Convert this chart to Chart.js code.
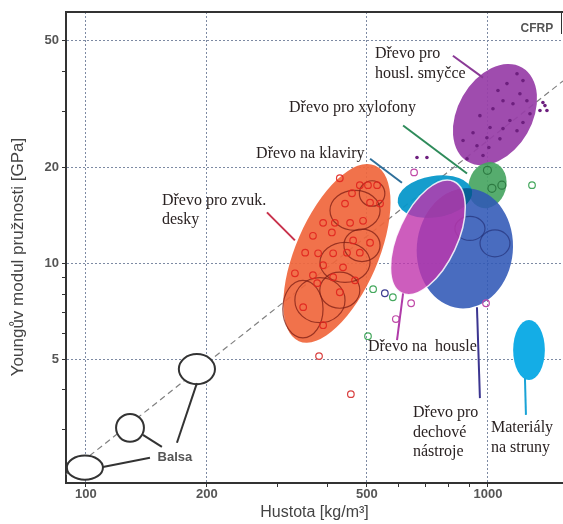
<!DOCTYPE html>
<html>
<head>
<meta charset="utf-8">
<script src="https://cdn.jsdelivr.net/npm/chart.js@4"></script>
<style>
html, body { margin: 0; padding: 0; background: #fff; }
#wrap { width: 563px; height: 524px; }
</style>
</head>
<body>
<div id="wrap"><canvas id="myChart"></canvas></div>
<script>
const chartEl = document.getElementById('myChart');

// Axis ticks (density kg/m3, modulus GPa)
const xTicks = [100, 200, 300, 400, 500, 600, 700, 800, 900, 1000];
const xLabelled = [100, 200, 500, 1000];
const yTicks = [3, 4, 5, 6, 7, 8, 9, 10, 20, 30, 40, 50];
const yLabelled = [5, 10, 20, 50];

// E/rho guide line
const guideLine = [[89.2, 2.17], [1537, 37.4]];

// Regions: centre, end of long axis, short/long ratio
const regionNames = ['balsa1', 'balsa2', 'balsa3', 'zvukDesky', 'smycce', 'xylofony', 'klaviry', 'dechove', 'housle', 'struny'];
const regionCentres = [[99.4, 2.28], [128.7, 3.04], [188.8, 4.65], [421, 10.75], [1041, 29.3], [997, 17.6], [738, 16.2], [876, 11.14], [709, 12.06], [1265, 5.34]];
const regionTips = [[110.2, 2.28], [139.4, 3.04], [209.4, 4.65], [523.5, 20.3], [1215, 41.2], [1036, 20.7], [913, 16.9], [902, 17.18], [823, 18.07], [1265, 6.63]];
const regionRatios = [0.67, 1.0, 0.83, 0.43, 0.685, 0.8, 0.55, 0.8, 0.48, 0.53];

// Smaller species groups drawn as outlines inside the regions
const subCentres = [[346.5, 7.18], [382, 7.66], [428, 8.23], [441, 10.07], [486, 11.39], [467, 14.66], [515, 16.57], [902, 12.87], [1041, 11.55]];
const subTips = [[346.5, 8.84], [441, 7.66], [480, 8.23], [509, 10.07], [539, 11.39], [539, 14.66], [554, 16.57], [983, 12.87], [1134, 11.55]];
const subRatios = [0.7, 0.9, 0.9, 0.8, 0.9, 0.8, 1, 0.8, 0.9];

// Single samples
const soundboardSamples = [[428, 18.5], [480, 17.6], [503, 17.6], [530, 17.6], [459, 16.6], [509, 15.5], [539, 15.4], [441, 15.4],
  [389, 13.4], [416, 13.4], [454, 13.4], [489, 13.6], [367, 12.2], [409, 12.5], [462, 11.8], [509, 11.6], [351, 10.8],
  [378, 10.75], [412, 10.75], [446, 10.8], [480, 10.8], [389, 9.86], [436, 9.71], [331, 9.3], [367, 9.17], [412, 9.04],
  [467, 8.84], [376, 8.66], [428, 8.11], [347, 7.28], [389, 6.39]];
const bowSamples = [[1181, 39.4], [1115, 36.7], [1222, 37.5], [1059, 34.9], [1201, 34.1], [1090, 32.4], [1250, 32.4], [1029, 30.6],
  [1154, 31.7], [955, 29.1], [1134, 28.1], [1222, 27.7], [1012, 26.7], [1090, 26.5], [1181, 26.1], [918, 25.7], [994, 24.8],
  [1071, 24.6], [867, 24.3], [939, 23.4], [1005, 23.1], [887, 21.3], [972, 21.8], [1272, 29.5], [1370, 32.0], [1347, 30.2],
  [1402, 30.2], [1386, 31.3], [666, 21.5], [705, 21.5]];
const xyloSamples = [[997, 19.6], [1023, 17.2], [1083, 17.6]];
const greenSamples = [[518, 8.29], [580, 7.82], [503, 5.9], [1287, 17.6]];
const pinkSamples = [[644, 7.49], [590, 6.68], [989, 7.49], [655, 19.3]];
const navySamples = [[554, 8.05]];
const redSamples = [[380, 5.11], [456, 3.88]];

// Labels and their leader lines
const labelTexts = [['Dřevo pro', 'housl. smyčce'], ['Dřevo pro xylofony'], ['Dřevo na klaviry'], ['Dřevo pro zvuk.', 'desky'],
  ['Dřevo na  housle'], ['Dřevo pro', 'dechové', 'nástroje'], ['Materiály', 'na struny']];
const labelAnchors = [[523.5, 45.5], [320, 30.8], [265, 22.1], [154.5, 15.76], [503, 5.45], [651, 3.39], [1017, 3.04]];
const leaderLines = [
  [[818, 44.9], [972, 38.3]],
  [[615, 27.1], [887, 19.15]],
  [[509, 21.3], [611, 17.9]],
  [[282, 14.45], [331, 11.8]],
  [[594, 5.74], [615, 8.05]],
  [[955, 3.77], [939, 7.28]],
  [[1243, 3.34], [1236, 4.36]]
];
const balsaLines = [[[110.2, 2.29], [144.3, 2.45]], [[138.6, 2.89], [154.5, 2.65]], [[188.8, 4.2], [168.4, 2.73]]];
const balsaAnchor = [166.5, 2.45];
const cfrpAnchor = [1324, 54.5];

// styles
const regionFill = ['#fff', '#fff', '#fff', 'rgba(240,102,60,0.92)', 'rgba(152,62,168,0.93)', 'rgba(72,165,98,0.92)',
  'rgba(8,152,202,0.95)', 'rgba(48,88,182,0.88)', 'rgba(192,52,172,0.8)', '#14ade6'];
const regionStroke = ['#333', '#333', '#333', null, null, null, null, null, 'rgba(255,255,255,0.85)', null];
const leaderColors = ['#8a3a96', '#2e8b5a', '#2f6f9a', '#c8314b', '#b03aa8', '#3b3590', '#1aa3d6'];

const toXY = arr => arr.map(p => ({x: p[0], y: p[1]}));

function pix(chart, p) {
  return [chart.scales.x.getPixelForValue(p[0]), chart.scales.y.getPixelForValue(p[1])];
}

function ellipsePath(ctx, chart, c, t, ratio) {
  const [cx, cy] = pix(chart, c);
  const [tx, ty] = pix(chart, t);
  const a = Math.hypot(tx - cx, ty - cy);
  ctx.beginPath();
  ctx.ellipse(cx, cy, a, a * ratio, Math.atan2(ty - cy, tx - cx), 0, Math.PI * 2);
}

const regionsPlugin = {
  id: 'regions',
  afterDatasetDraw(chart, args) {
    if (args.index !== chart.data.datasets.length - 1) return;
    const ctx = chart.ctx;
    ctx.save();
    for (let i = 0; i < regionNames.length; i++) {
      ellipsePath(ctx, chart, regionCentres[i], regionTips[i], regionRatios[i]);
      ctx.fillStyle = regionFill[i];
      ctx.fill();
      if (regionStroke[i]) {
        ctx.lineWidth = i < 3 ? 2 : 1.5;
        ctx.strokeStyle = regionStroke[i];
        ctx.stroke();
      }
      // piano / wind overlap is darker
      if (regionNames[i] === 'dechove') {
        ctx.save();
        ellipsePath(ctx, chart, regionCentres[6], regionTips[6], regionRatios[6]);
        ctx.clip();
        ellipsePath(ctx, chart, regionCentres[i], regionTips[i], regionRatios[i]);
        ctx.fillStyle = 'rgba(4,96,146,0.95)';
        ctx.fill();
        ctx.restore();
      }
      // sub groups go on top of their region
      if (regionNames[i] === 'zvukDesky' || regionNames[i] === 'dechove') {
        for (let j = 0; j < subCentres.length; j++) {
          const inBlue = j >= 7;
          if ((regionNames[i] === 'dechove') !== inBlue) continue;
          ellipsePath(ctx, chart, subCentres[j], subTips[j], subRatios[j]);
          ctx.lineWidth = 1.2;
          ctx.strokeStyle = inBlue ? 'rgba(30,40,110,0.6)' : 'rgba(125,30,20,0.75)';
          ctx.stroke();
        }
      }
    }
    ctx.restore();
  },
  afterDatasetsDraw(chart) {
    const ctx = chart.ctx;
    ctx.save();
    ctx.fillStyle = '#2a2222';
    ctx.font = '16px "Liberation Serif", "Times New Roman", serif';
    ctx.textBaseline = 'middle';
    ctx.textAlign = 'left';
    labelTexts.forEach((lines, i) => {
      const [x, y] = pix(chart, labelAnchors[i]);
      lines.forEach((s, k) => ctx.fillText(s, x, y + k * 19.5));
    });
    ctx.fillStyle = '#555';
    ctx.font = 'bold 13px "Liberation Sans", Arial, sans-serif';
    ctx.textAlign = 'center';
    let [bx, by] = pix(chart, balsaAnchor);
    ctx.fillText('Balsa', bx, by);
    ctx.font = 'bold 12px "Liberation Sans", Arial, sans-serif';
    [bx, by] = pix(chart, cfrpAnchor);
    ctx.fillText('CFRP', bx, by);
    // frame top and CFRP box edge
    const a = chart.chartArea;
    ctx.strokeStyle = '#333';
    ctx.lineWidth = 2;
    ctx.beginPath();
    ctx.moveTo(a.left, a.top);
    ctx.lineTo(a.right, a.top);
    ctx.stroke();
    ctx.lineWidth = 1;
    ctx.beginPath();
    ctx.moveTo(a.right - 1.5, a.top);
    ctx.lineTo(a.right - 1.5, a.top + 22);
    ctx.stroke();
    ctx.restore();
  }
};

const circleSet = (data, color, r) => ({
  data: toXY(data), showLine: false, pointStyle: 'circle', pointRadius: r || 3.3,
  borderColor: color, borderWidth: 1.2, backgroundColor: 'rgba(0,0,0,0)'
});

const lineSet = (pts, color, w) => ({
  data: toXY(pts), showLine: true, borderColor: color, borderWidth: w || 2, pointRadius: 0
});

const datasets = [];
leaderLines.forEach((l, i) => datasets.push(lineSet(l, leaderColors[i], 2)));
balsaLines.forEach(l => datasets.push(lineSet(l, '#333', 2)));
datasets.push(circleSet(soundboardSamples, 'rgba(225,35,30,0.9)', 3.3));
datasets.push({data: toXY(bowSamples), showLine: false, pointRadius: 1.8, borderWidth: 0, backgroundColor: '#6d1f7e'});
datasets.push(circleSet(xyloSamples, 'rgba(35,110,55,0.8)', 4));
datasets.push(circleSet(greenSamples, '#45a85e'));
datasets.push(circleSet(pinkSamples, '#c04aa8'));
datasets.push(circleSet(navySamples, '#3c3c90'));
datasets.push(circleSet(redSamples, '#d94040'));
// guide line last so it is drawn underneath
datasets.push({data: toXY(guideLine), showLine: true, borderColor: '#808080', borderWidth: 1.2, borderDash: [6, 4], pointRadius: 0});

Chart.defaults.font.family = '"Liberation Sans", Arial, sans-serif';

new Chart(chartEl, {
  type: 'scatter',
  data: {datasets: datasets},
  plugins: [regionsPlugin],
  options: {
    responsive: true,
    maintainAspectRatio: false,
    animation: false,
    layout: {autoPadding: false, padding: {top: 12, right: 0, left: 0, bottom: 0}},
    plugins: {legend: {display: false}, tooltip: {enabled: false}},
    scales: {
      x: {
        type: 'logarithmic',
        min: 89.2,
        max: 1537,
        afterBuildTicks: s => { s.ticks = xTicks.map(v => ({value: v})); },
        afterFit: s => { s.height = 41; s.paddingLeft = 0; s.paddingRight = 0; },
        ticks: {
          autoSkip: false, maxRotation: 0, padding: 0, color: '#555',
          font: {size: 13, weight: 'bold'},
          callback: v => xLabelled.includes(v) ? String(v) : ''
        },
        grid: {
          color: c => c.tick && xLabelled.includes(c.tick.value) ? '#7d8aa3' : 'rgba(0,0,0,0)',
          tickColor: '#333', tickLength: 4, lineWidth: 1
        },
        border: {display: true, color: '#333', width: 2, dash: [2, 2]},
        title: {display: true, text: 'Hustota [kg/m³]', color: '#444', font: {size: 16}, padding: {top: 0, bottom: 2}}
      },
      y: {
        type: 'logarithmic',
        min: 2.04,
        max: 61.6,
        afterBuildTicks: s => { s.ticks = yTicks.map(v => ({value: v})); },
        afterFit: s => { s.width = 66; s.paddingTop = 0; s.paddingBottom = 0; },
        ticks: {
          autoSkip: false, padding: 3, color: '#555',
          font: {size: 13, weight: 'bold'},
          callback: v => yLabelled.includes(v) ? String(v) : ''
        },
        grid: {
          color: c => c.tick && yLabelled.includes(c.tick.value) ? '#7d8aa3' : 'rgba(0,0,0,0)',
          tickColor: '#333', tickLength: 4, lineWidth: 1
        },
        border: {display: true, color: '#333', width: 2, dash: [2, 2]},
        title: {display: true, text: 'Youngův modul pružnosti [GPa]    ', color: '#444', font: {size: 17}, padding: {top: 8, bottom: 0}}
      }
    }
  }
});
</script>
</body>
</html>
